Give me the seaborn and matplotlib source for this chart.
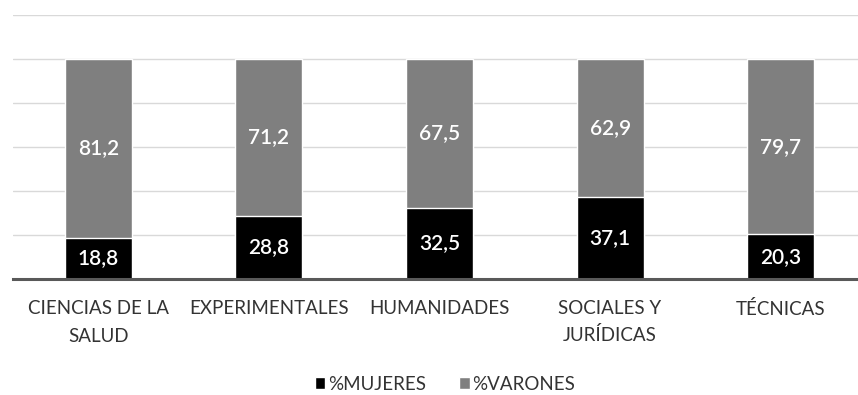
import matplotlib
matplotlib.use("Agg")
import matplotlib.pyplot as plt
import seaborn as sns
import pandas as pd
from matplotlib.patches import Patch

categorias = ["CIENCIAS DE LA\nSALUD", "EXPERIMENTALES", "HUMANIDADES",
              "SOCIALES Y\nJURÍDICAS", "TÉCNICAS"]
mujeres = [18.8, 28.8, 32.5, 37.1, 20.3]
varones = [81.2, 71.2, 67.5, 62.9, 79.7]

sns.set_theme(style="white")
plt.rcParams["font.family"] = ["Lato", "DejaVu Sans"]

df = pd.DataFrame({"cat": categorias, "mujeres": mujeres, "varones": varones})
df["total"] = df["mujeres"] + df["varones"]

fig = plt.figure(figsize=(8.58, 3.95), dpi=100)
ax = fig.add_axes([13 / 858, 1 - 279 / 395, (858 - 13) / 858, (279 - 15) / 395])

gris = "#7f7f7f"
negro = "#000000"
texto = "#333333"

# Barra completa en gris (varones encima) y tramo inferior en negro (mujeres)
sns.barplot(data=df, x="cat", y="total", color=gris, width=0.393,
            edgecolor="white", linewidth=1, saturation=1, ax=ax)
sns.barplot(data=df, x="cat", y="mujeres", color=negro, width=0.393,
            edgecolor="white", linewidth=1, saturation=1, ax=ax)

for i, (m, v) in enumerate(zip(mujeres, varones)):
    ax.text(i, m / 2, f"{m:.1f}".replace(".", ","), ha="center", va="center",
            color="white", fontsize=15, fontweight="semibold")
    ax.text(i, m + v / 2, f"{v:.1f}".replace(".", ","), ha="center", va="center",
            color="white", fontsize=15, fontweight="semibold")

ax.set_ylim(0, 120)
ax.set_xlim(-0.5, -0.5 + (858 - 13) / 170.6)
ax.set_yticks(range(0, 121, 20))
ax.set_yticklabels([])
ax.yaxis.grid(True, color="#d9d9d9", linewidth=1)
ax.set_axisbelow(True)
for s in ["top", "right", "left"]:
    ax.spines[s].set_visible(False)
ax.spines["bottom"].set_color("#595959")
ax.spines["bottom"].set_linewidth(2.2)
ax.tick_params(axis="both", length=0)
ax.set_xlabel("")
ax.set_ylabel("")
for lbl in ax.get_xticklabels():
    lbl.set_fontsize(13.5)
    lbl.set_color(texto)
    lbl.set_verticalalignment("top")
    lbl.set_linespacing(1.62 if "Í" in lbl.get_text() else 1.78)
ax.tick_params(axis="x", pad=15)

handles = [Patch(facecolor=negro, label="%MUJERES"),
           Patch(facecolor=gris, label="%VARONES")]
fig.legend(handles=handles, loc="center", bbox_to_anchor=(445 / 858, 1 - 384 / 395),
           ncol=2, frameon=False, fontsize=13.5, handlelength=0.55, handleheight=0.55,
           handletextpad=0.15, columnspacing=1.8, labelcolor=texto)

fig.savefig("out.png", dpi=100)
